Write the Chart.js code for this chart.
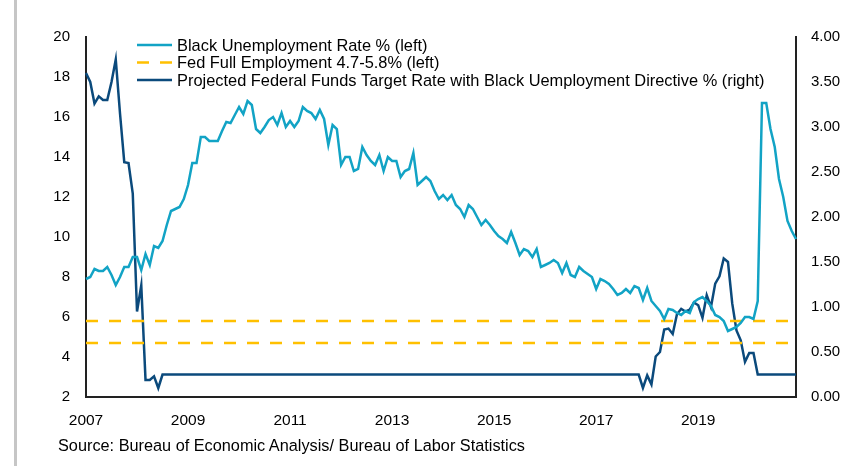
<!DOCTYPE html>
<html lang="en">
<head>
  <meta charset="UTF-8" />
  <title>Black Unemployment and Projected Fed Funds Rate</title>
  <script src="https://cdn.jsdelivr.net/npm/chart.js"></script>
  <style>
    body {
      margin: 0;
      padding: 0;
      background: #ffffff;
      font-family: "Liberation Sans", Arial, sans-serif;
    }
    .wrap {
      position: relative;
      width: 857px;
      height: 466px;
    }
    .edge {
      position: absolute;
      left: 14px;
      top: 0;
      width: 3px;
      height: 466px;
      background: #c6c6c6;
    }
    .source {
      position: absolute;
      left: 58px;
      top: 436px;
      font-size: 16.3px;
      color: #000000;
    }
  </style>
</head>
<body>
  <div class="wrap">
    <canvas id="chart" width="857" height="466"></canvas>
    <div class="edge"></div>
    <div class="source">Source: Bureau of Economic Analysis/ Bureau of Labor Statistics</div>
  </div>
  <script>
    // monthly categories, Jan 2007 .. Dec 2020
    const months = [];
    for (let y = 2007; y <= 2020; y++) {
      for (let m = 1; m <= 12; m++) months.push(y + '-' + String(m).padStart(2, '0'));
    }

    // Black unemployment rate, % (left axis)
    const blackUnemployment = [
      7.9, 8.0, 8.4, 8.3, 8.3, 8.5, 8.1, 7.6, 8.0, 8.5, 8.5, 9.0,
      9.0, 8.35, 9.15, 8.6, 9.55, 9.45, 9.8, 10.6, 11.3, 11.4, 11.5, 11.9,
      12.6, 13.7, 13.7, 15.0, 15.0, 14.8, 14.8, 14.8, 15.3, 15.75, 15.7, 16.1,
      16.5, 16.15, 16.8, 16.6, 15.4, 15.2, 15.5, 15.85, 16.0, 15.6, 16.2, 15.5,
      15.8, 15.5, 15.8, 16.5, 16.3, 16.2, 15.9, 16.35, 15.9, 14.6, 15.6, 15.4,
      13.6, 14.0, 14.0, 13.3, 13.4, 14.5, 14.1, 13.8, 13.6, 14.1, 13.3, 14.0,
      13.8, 13.8, 13.0, 13.3, 13.4, 14.2, 12.6, 12.8, 13.0, 12.8, 12.3, 11.9,
      12.1, 11.85, 12.1, 11.6, 11.4, 11.0, 11.6, 11.4, 11.0, 10.6, 10.85, 10.6,
      10.3, 10.05, 9.9, 9.7, 10.25, 9.7, 9.1, 9.4, 9.3, 9.0, 9.4, 8.5,
      8.6, 8.7, 8.85, 8.7, 8.2, 8.7, 8.1, 8.0, 8.5, 8.3, 8.15, 8.0,
      7.4, 7.9, 7.8, 7.65, 7.4, 7.1, 7.2, 7.4, 7.2, 7.55, 7.45, 6.85,
      7.45, 6.8, 6.55, 6.3, 5.9, 6.4, 6.35, 6.2, 6.1, 6.3, 6.2, 6.75,
      6.9, 7.0, 6.8, 6.55, 6.1, 6.0, 5.8, 5.3, 5.4, 5.5, 5.7, 6.0,
      6.0, 5.9, 6.8, 16.7, 16.7, 15.4, 14.5, 12.9, 12.0, 10.8, 10.3, 9.9
    ];

    // projected federal funds target rate, % (right axis)
    const projectedFedFunds = [
      3.60, 3.50, 3.26, 3.34, 3.30, 3.30, 3.50, 3.75, 3.15, 2.61, 2.60, 2.26,
      0.95, 1.24, 0.19, 0.19, 0.23, 0.10, 0.25, 0.25, 0.25, 0.25, 0.25, 0.25,
      0.25, 0.25, 0.25, 0.25, 0.25, 0.25, 0.25, 0.25, 0.25, 0.25, 0.25, 0.25,
      0.25, 0.25, 0.25, 0.25, 0.25, 0.25, 0.25, 0.25, 0.25, 0.25, 0.25, 0.25,
      0.25, 0.25, 0.25, 0.25, 0.25, 0.25, 0.25, 0.25, 0.25, 0.25, 0.25, 0.25,
      0.25, 0.25, 0.25, 0.25, 0.25, 0.25, 0.25, 0.25, 0.25, 0.25, 0.25, 0.25,
      0.25, 0.25, 0.25, 0.25, 0.25, 0.25, 0.25, 0.25, 0.25, 0.25, 0.25, 0.25,
      0.25, 0.25, 0.25, 0.25, 0.25, 0.25, 0.25, 0.25, 0.25, 0.25, 0.25, 0.25,
      0.25, 0.25, 0.25, 0.25, 0.25, 0.25, 0.25, 0.25, 0.25, 0.25, 0.25, 0.25,
      0.25, 0.25, 0.25, 0.25, 0.25, 0.25, 0.25, 0.25, 0.25, 0.25, 0.25, 0.25,
      0.25, 0.25, 0.25, 0.25, 0.25, 0.25, 0.25, 0.25, 0.25, 0.25, 0.25, 0.10,
      0.24, 0.14, 0.45, 0.50, 0.75, 0.76, 0.70, 0.92, 0.98, 0.95, 0.97, 1.05,
      1.02, 0.88, 1.13, 1.00, 1.26, 1.34, 1.54, 1.50, 1.04, 0.74, 0.63, 0.39,
      0.49, 0.49, 0.25, 0.25, 0.25, 0.25, 0.25, 0.25, 0.25, 0.25, 0.25, 0.25
    ];

    // Fed full employment band, % (left axis)
    const fullEmploymentHigh = 5.8;
    const fullEmploymentLow = 4.7;

    const leftTicks = [2, 4, 6, 8, 10, 12, 14, 16, 18, 20];
    const rightTicks = [0, 0.5, 1, 1.5, 2, 2.5, 3, 3.5, 4];

    const lightBlue = '#12a3c5';
    const darkBlue = '#0b4a7c';
    const gold = '#ffc000';
    const fontFamily = '"Liberation Sans", Arial, sans-serif';
    const tickFont = { family: fontFamily, size: 15 };
    const legendSize = 16.4;

    const first = months[0], last = months[months.length - 1];

    // legend drawn inside the plot, top left, like the original
    const insideLegend = {
      id: 'insideLegend',
      afterDraw(chart) {
        const ctx = chart.ctx;
        const x0 = 137, x1 = 172, tx = 177;
        let y = 45;
        ctx.save();
        ctx.font = legendSize + 'px ' + fontFamily;
        ctx.textBaseline = 'middle';
        chart.data.datasets.forEach(ds => {
          if (!ds.label) return;
          ctx.beginPath();
          ctx.strokeStyle = ds.borderColor;
          ctx.lineWidth = ds.borderWidth;
          ctx.setLineDash(ds.borderDash || []);
          ctx.moveTo(x0, y);
          ctx.lineTo(x1, y);
          ctx.stroke();
          ctx.setLineDash([]);
          ctx.fillStyle = '#000';
          ctx.fillText(ds.label, tx, y + 1);
          y += 17.5;
        });
        ctx.restore();
      }
    };

    new Chart(document.getElementById('chart'), {
      type: 'line',
      data: {
        labels: months,
        datasets: [
          {
            label: 'Black Unemployment Rate % (left)',
            data: blackUnemployment,
            borderColor: lightBlue,
            borderWidth: 2.5,
            yAxisID: 'y'
          },
          {
            label: 'Fed Full Employment 4.7-5.8% (left)',
            data: [{ x: first, y: fullEmploymentHigh }, { x: last, y: fullEmploymentHigh }],
            borderColor: gold,
            borderWidth: 2.5,
            borderDash: [12, 11],
            yAxisID: 'y'
          },
          {
            label: '',
            data: [{ x: first, y: fullEmploymentLow }, { x: last, y: fullEmploymentLow }],
            borderColor: gold,
            borderWidth: 2.5,
            borderDash: [12, 11],
            yAxisID: 'y'
          },
          {
            label: 'Projected Federal Funds Target Rate with Black Uemployment Directive % (right)',
            data: projectedFedFunds,
            borderColor: darkBlue,
            borderWidth: 2.5,
            yAxisID: 'y1'
          }
        ]
      },
      options: {
        responsive: false,
        animation: false,
        elements: { point: { radius: 0 }, line: { tension: 0 } },
        layout: { padding: { top: 37, left: 0, right: 0, bottom: 0 } },
        plugins: { legend: { display: false }, tooltip: { enabled: false } },
        scales: {
          x: {
            offset: false,
            grid: { display: false },
            border: { display: true, color: '#222', width: 2 },
            ticks: {
              autoSkip: false,
              maxRotation: 0,
              padding: 6,
              color: '#000',
              font: { family: fontFamily, size: 15.5 },
              callback: (v, i) => (i % 24 === 0 ? months[i].slice(0, 4) : '')
            },
            afterFit: s => { s.height = 69; }
          },
          y: {
            position: 'left',
            min: 2,
            max: 20,
            grid: { display: false },
            border: { display: true, color: '#222', width: 2 },
            afterBuildTicks: s => { s.ticks = leftTicks.map(v => ({ value: v })); },
            ticks: { padding: 8, color: '#000', font: tickFont },
            afterFit: s => { s.width = 86; }
          },
          y1: {
            position: 'right',
            min: 0,
            max: 4,
            grid: { display: false },
            border: { display: true, color: '#222', width: 2 },
            afterBuildTicks: s => { s.ticks = rightTicks.map(v => ({ value: v })); },
            ticks: { padding: 7, color: '#000', font: tickFont, callback: v => v.toFixed(2) },
            afterFit: s => { s.width = 61; }
          }
        }
      },
      plugins: [insideLegend]
    });
  </script>
</body>
</html>
